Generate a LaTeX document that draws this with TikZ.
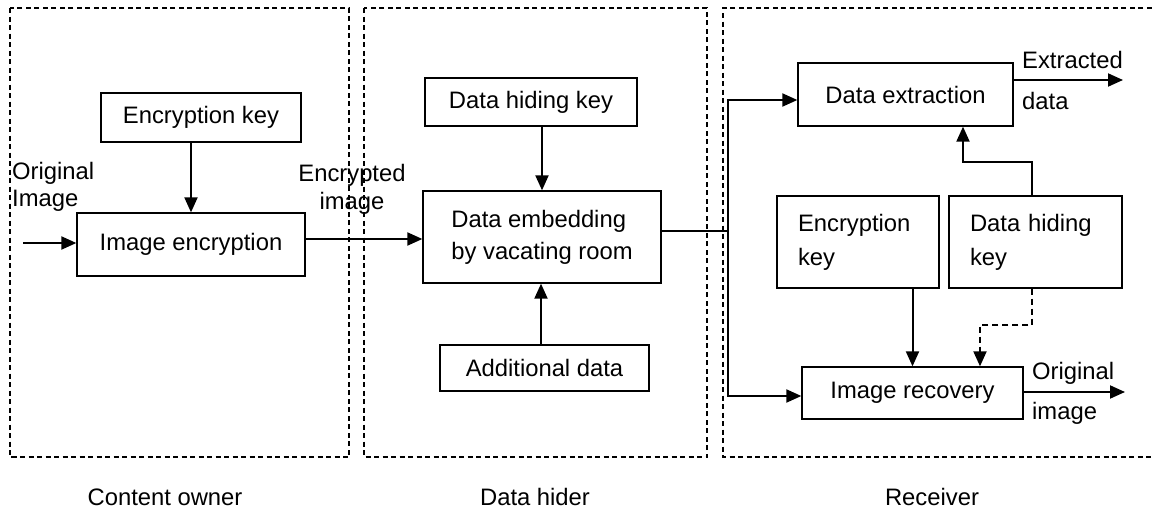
\documentclass[tikz,border=0pt]{standalone}
\usepackage{fontspec}
\setmainfont{Liberation Sans}
\usetikzlibrary{arrows.meta}
\begin{document}
\begin{tikzpicture}[x=1pt,y=-1pt,
  every node/.style={font=\fontsize{23.8}{32}\selectfont},
  box/.style={draw,line width=1.3pt,inner sep=0pt,align=center},
  arr/.style={line width=2pt,-{Triangle[length=15pt,width=13pt]}},
  panel/.style={line width=1.2pt,dash pattern=on 5pt off 3.5pt},
  dsh/.style={dash pattern=on 6pt off 4pt}]
\useasboundingbox (0,0) rectangle (1154,514);
% panels
\draw[panel] (10,8) rectangle (349,457);
\draw[panel] (364,8) rectangle (707,457);
\draw[panel] (1160,8) -- (723,8) -- (723,457) -- (1160,457);
% boxes
\node[box,minimum width=200pt,minimum height=49pt] (ek1) at (201,117.5) {Encryption key};
\node[box,minimum width=228pt,minimum height=63pt] (ie) at (191,244.5) {Image encryption};
\node[box,minimum width=212pt,minimum height=48pt] (dhk1) at (531,102) {Data hiding key};
\node[box,minimum width=238pt,minimum height=92pt,align=left] (de) at (542,237) {Data embedding\\by vacating room};
\node[box,minimum width=209pt,minimum height=46pt] (ad) at (544.5,368) {Additional data};
\node[box,minimum width=215pt,minimum height=63pt] (dx) at (905.5,94.5) {Data extraction};
\node[box,minimum width=162pt,minimum height=92pt,text width=120pt,align=left,font=\fontsize{23.8}{34}\selectfont] (ek2) at (858,242) {Encryption\\key};
\node[box,minimum width=173pt,minimum height=92pt,text width=131pt,align=left,font=\fontsize{23.8}{34}\selectfont] (dhk2) at (1035.5,242) {Data hiding\\key};
\node[box,minimum width=221pt,minimum height=52pt] (ir) at (912.5,393) {Image recovery};
% coordinates
\coordinate (in1) at (23,243);
\coordinate (split) at (728,231);
\coordinate (jtop) at (728,100);
\coordinate (jbot) at (728,396);
\coordinate (xout) at (1123,80);
\coordinate (rout) at (1125,392);
\coordinate (b1) at (963,162);
\coordinate (b2) at (980,325);
% connectors
\draw[arr] (in1) -- (in1 -| ie.west);
\draw[arr] (ie.north |- ek1.south) -- (ie.north);
\draw[arr] ([yshift=5.5pt]ie.east) -- ([yshift=5.5pt]ie.east -| de.west);
\draw[arr] (de.north |- dhk1.south) -- (de.north);
\draw[arr] (541,0 |- ad.north) -- (541,0 |- de.south);
\draw[line width=2pt] ([yshift=6pt]de.east) -- (split);
\draw[arr] (split) -- (jtop) -- (jtop -| dx.west);
\draw[arr] (split) -- (jbot) -- (jbot -| ir.west);
\draw[arr] (xout -| dx.east) -- (xout);
\draw[arr] (rout -| ir.east) -- (rout);
\draw[arr] ([xshift=-3.5pt]dhk2.north) |- (b1) -- (b1 |- dx.south);
\draw[arr] (ir.north |- ek2.south) -- (ir.north);
\draw[arr,dsh] ([xshift=-3.5pt]dhk2.south) |- (b2) -- (b2 |- ir.north);
% labels
\node[anchor=west,align=left,inner sep=0pt,font=\fontsize{23.8}{27}\selectfont] (lorig) at (12,187) {Original\\Image};
\node[align=center,inner sep=0pt,font=\fontsize{23.8}{28}\selectfont] (lenc) at (352,189) {Encrypted\\image};
\node[anchor=west,inner sep=0pt] (lext) at (1022,60) {Extracted};
\node[anchor=west,inner sep=0pt] (ldata) at (1022,101) {data};
\node[anchor=west,inner sep=0pt] (lorig2) at (1032,373) {Original};
\node[anchor=west,inner sep=0pt] (limg2) at (1032,413) {image};
\node (t1) at (165,497) {Content owner};
\node (t2) at (535,497) {Data hider};
\node (t3) at (932,497) {Receiver};
\end{tikzpicture}
\end{document}
